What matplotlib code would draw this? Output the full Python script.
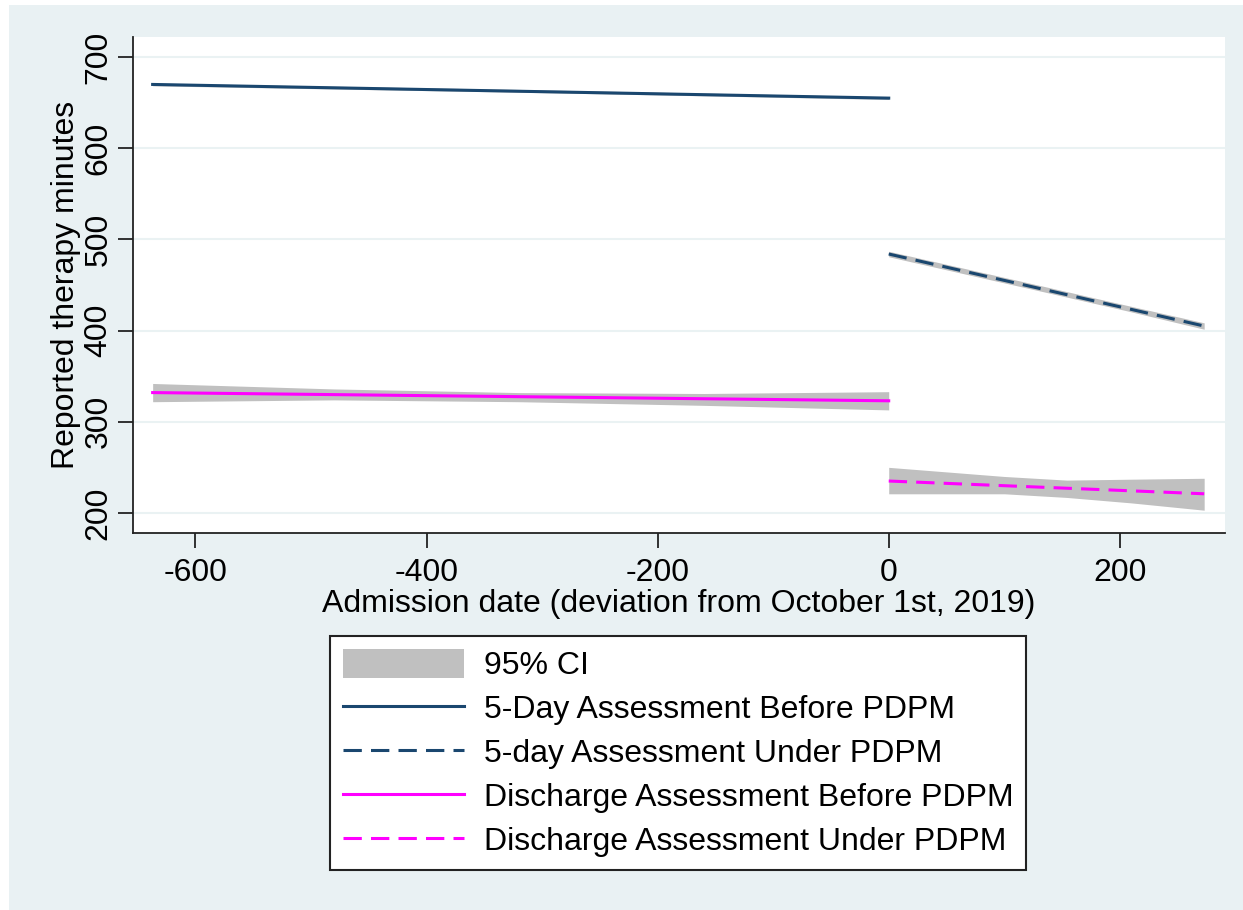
import numpy as np
import matplotlib.pyplot as plt
from matplotlib.patches import Rectangle

plt.rcParams['font.family'] = ['Liberation Sans', 'DejaVu Sans']
plt.rcParams['axes.unicode_minus'] = False

# fitted lines (admission date vs reported therapy minutes)
x_before = [-637, 0]
x_under = [0, 273]
day5_before = [670, 655]
day5_under = [484, 405]
dis_before = [332, 323]
dis_under = [235, 221]

# 95% confidence bands
ci_x_before = [-637, -480, -320, -160, 0]
day5_before_lo = [668.5, 665, 661.5, 657.5, 653.5]
day5_before_hi = [671.5, 668, 664.5, 660.5, 656.5]
dis_before_lo = [322, 324, 322, 318, 313]
dis_before_hi = [342, 336, 332, 331, 333]

ci_x_under = [0, 68, 136, 205, 273]
day5_under_lo = [481, 461.5, 442, 422, 401.5]
day5_under_hi = [487, 467.5, 448, 428, 408.5]

ci_x_dis_under = [0, 50, 100, 154, 210, 273]
dis_under_lo = [221, 221, 221, 217, 211, 203]
dis_under_hi = [250, 245, 240, 236, 237, 238]

navy = '#1a476f'
magenta = '#ff00ff'
ci_gray = '#c0c0c0'
bg = '#e9f1f3'
fs = 23
dash = (0, (6, 3))

fig = plt.figure(figsize=(12.43, 9.10), dpi=100, facecolor='white')
fig.patches.append(Rectangle((9 / 1243, 0), 1, 1 - 5 / 910, transform=fig.transFigure,
                             facecolor=bg, edgecolor='none', zorder=-10))
ax = fig.add_axes([0.107, 0.4143, 0.8785, 0.545])
ax.set_facecolor('white')

ax.fill_between(ci_x_before, day5_before_lo, day5_before_hi, color=ci_gray, lw=0, label='95% CI')
ax.fill_between(ci_x_under, day5_under_lo, day5_under_hi, color=ci_gray, lw=0)
ax.fill_between(ci_x_before, dis_before_lo, dis_before_hi, color=ci_gray, lw=0)
ax.fill_between(ci_x_dis_under, dis_under_lo, dis_under_hi, color=ci_gray, lw=0)

ax.plot(x_before, day5_before, color=navy, lw=2.2, label='5-Day Assessment Before PDPM')
ax.plot(x_under, day5_under, color=navy, lw=2.2, ls=dash, label='5-day Assessment Under PDPM')
ax.plot(x_before, dis_before, color=magenta, lw=2.2, label='Discharge Assessment Before PDPM')
ax.plot(x_under, dis_under, color=magenta, lw=2.2, ls=dash, label='Discharge Assessment Under PDPM')

ax.set_xlim(-654, 291)
ax.set_ylim(178, 722)
ax.set_xticks([-600, -400, -200, 0, 200])
ax.set_yticks([200, 300, 400, 500, 600, 700])
ax.set_yticklabels(['200', '300', '400', '500', '600', '700'], rotation=90, va='center')
ax.grid(axis='y', color='#eaf2f3', lw=1.5)
ax.set_axisbelow(True)
for s in ['top', 'right']:
    ax.spines[s].set_visible(False)
for s in ['left', 'bottom']:
    ax.spines[s].set_linewidth(1.3)
    ax.spines[s].set_color('#222222')
ax.tick_params(labelsize=fs, length=11, width=1.3, color='#222222')
ax.tick_params(axis='x', pad=7)
ax.tick_params(axis='y', pad=3)
ax.set_xlabel('Admission date (deviation from October 1st, 2019)', fontsize=fs, labelpad=1)
ax.set_ylabel('Reported therapy minutes', fontsize=fs, labelpad=2)

leg = fig.legend(loc='upper center', bbox_to_anchor=(0.5455, 0.3185), fontsize=fs,
                 frameon=True, fancybox=False, edgecolor='#222222', facecolor='white',
                 framealpha=1, handlelength=3.8, handleheight=1.0, labelspacing=0.37,
                 borderpad=0.4, handletextpad=0.6)
leg.get_frame().set_linewidth(1.5)

fig.savefig('out.png', dpi=100, facecolor=fig.get_facecolor())
